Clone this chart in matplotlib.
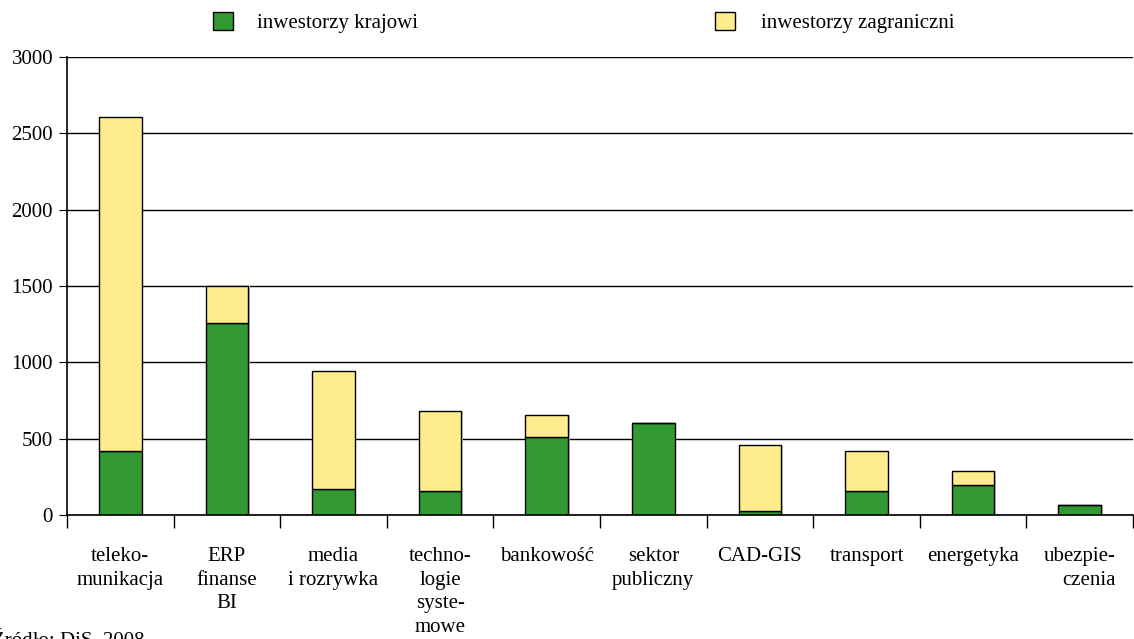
import numpy as np
import matplotlib.pyplot as plt
from matplotlib.patches import Patch

plt.rcParams['font.family'] = ['Liberation Serif', 'DejaVu Serif']

# Wartości dla poszczególnych branż
branze = ['teleko-\nmunikacja', 'ERP\nfinanse\nBI', 'media\ni rozrywka',
          'techno-\nlogie\nsyste-\nmowe', 'bankowość', 'sektor\npubliczny',
          'CAD-GIS', 'transport', 'energetyka', 'ubezpie-\nczenia']
krajowi = [420, 1260, 170, 160, 510, 600, 25, 157, 195, 65]
zagraniczni = [2185, 240, 775, 520, 145, 0, 432, 262, 93, 0]

zielony = '#339933'
zolty = '#FFEC8C'

fig = plt.figure(figsize=(11.34, 6.39), dpi=100)
ax = fig.add_axes([67/1134, 1 - 515/639, (1133 - 67)/1134, (515 - 57)/639])

x = np.arange(len(branze))
suma = np.add(krajowi, zagraniczni)

# lekki cień z prawej strony słupków
ax.bar(x + 0.015, suma, width=0.4, color='#c8c8c8', linewidth=0, zorder=2)
ax.bar(x, krajowi, width=0.4, color=zielony, edgecolor='black', linewidth=1, zorder=3)
ax.bar(x, zagraniczni, width=0.4, bottom=krajowi, color=zolty, edgecolor='black',
       linewidth=1, zorder=3)

ax.set_xlim(-0.5, len(branze) - 0.5)
ax.set_ylim(0, 3000)
ax.set_yticks(np.arange(0, 3001, 500))
ax.yaxis.grid(True, color='black', linewidth=1)
ax.set_axisbelow(True)

for s in ['top', 'right']:
    ax.spines[s].set_visible(False)
for s in ['left', 'bottom']:
    ax.spines[s].set_linewidth(1.2)
    ax.spines[s].set_zorder(4)

ax.tick_params(axis='y', length=6, direction='out', labelsize=15, pad=4)

# podpisy kategorii pod słupkami, kreski między kategoriami
ax.set_xticks(x)
ax.set_xticklabels(branze, fontsize=15, linespacing=1.33)
ax.tick_params(axis='x', which='major', length=0, pad=23)
ax.set_xticks(np.arange(-0.5, len(branze)), minor=True)
ax.tick_params(axis='x', which='minor', length=9, direction='out', width=1)
ax.get_xticklabels()[-1].set_multialignment('right')

fig.legend(handles=[Patch(facecolor=zielony, edgecolor='black')],
           labels=['inwestorzy krajowi'], loc='upper left',
           bbox_to_anchor=(213/1134, 1 - 12/639), frameon=False, fontsize=15,
           handlelength=0.96, handleheight=0.96, handletextpad=1.15,
           borderpad=0, borderaxespad=0)
fig.legend(handles=[Patch(facecolor=zolty, edgecolor='black')],
           labels=['inwestorzy zagraniczni'], loc='upper left',
           bbox_to_anchor=(715/1134, 1 - 12/639), frameon=False, fontsize=15,
           handlelength=0.96, handleheight=0.96, handletextpad=1.25,
           borderpad=0, borderaxespad=0)

fig.text(-8/1134, 1 - 629/639, 'Źródło: DiS, 2008.', fontsize=15, va='top', ha='left')

fig.savefig('out.png', dpi=100)
